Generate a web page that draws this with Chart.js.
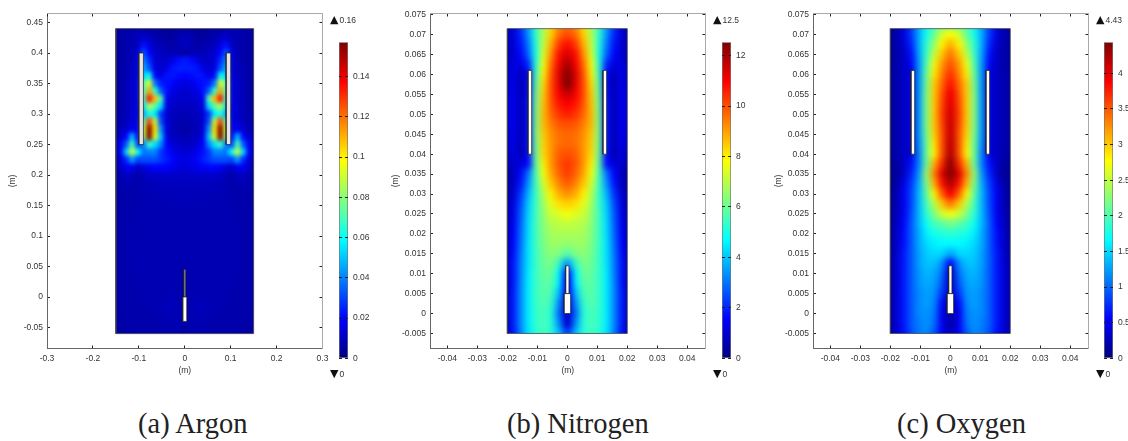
<!DOCTYPE html>
<html><head><meta charset="utf-8">
<script src="https://cdn.jsdelivr.net/npm/chart.js@4"></script>
<style>
html,body{margin:0;padding:0;background:#fff;overflow:hidden}
body{width:1128px;height:441px;position:relative}
canvas{position:absolute;top:0}
.mm{position:absolute;font:8.5px "Liberation Sans",sans-serif;color:#333;white-space:pre;line-height:10px}
.mm b{font:11px "DejaVu Sans",sans-serif;color:#111;margin-right:1px}
.cap{position:absolute;top:410px;font:28.5px "Liberation Serif",serif;color:#222;white-space:pre;line-height:28px}
</style></head><body>
<canvas id="pa" width="330" height="385" style="left:0"></canvas>
<canvas id="pb" width="330" height="385" style="left:383px"></canvas>
<canvas id="pc" width="330" height="385" style="left:766px"></canvas>
<canvas id="ca" width="38" height="385" style="left:338.5px"></canvas>
<canvas id="cb" width="38" height="385" style="left:721.5px"></canvas>
<canvas id="cc" width="24" height="385" style="left:1104px"></canvas>
<div class="mm" style="left:330px;top:13px"><b>▲</b>0.16</div>
<div class="mm" style="left:330px;top:367px"><b>▼</b>0</div>
<div class="mm" style="left:713px;top:13px"><b>▲</b>12.5</div>
<div class="mm" style="left:713px;top:367px"><b>▼</b>0</div>
<div class="mm" style="left:1096px;top:13px"><b>▲</b>4.43</div>
<div class="mm" style="left:1096px;top:367px"><b>▼</b>0</div>
<div class="cap" style="left:138px">(a) Argon</div>
<div class="cap" style="left:507px">(b) Nitrogen</div>
<div class="cap" style="left:897px">(c) Oxygen</div>
<script>
// ---- tick lists ----
const argonXTicks=[-0.3,-0.2,-0.1,0,0.1,0.2,0.3];
const argonYTicks=[-0.05,0,0.05,0.1,0.15,0.2,0.25,0.3,0.35,0.4,0.45];
const gasXTicks=[-0.04,-0.03,-0.02,-0.01,0,0.01,0.02,0.03,0.04];
const gasYTicks=[-0.005,0,0.005,0.01,0.015,0.02,0.025,0.03,0.035,0.04,0.045,0.05,0.055,0.06,0.065,0.07,0.075];
const argonBarTicks=[0,0.02,0.04,0.06,0.08,0.1,0.12,0.14];
const nitrogenBarTicks=[0,2,4,6,8,10,12];
const oxygenBarTicks=[0,0.5,1,1.5,2,2.5,3,3.5,4];
// ---- colour ranges ----
const argonMax=0.157, nitrogenMax=12.53, oxygenMax=4.435;
// ---- sample positions (half domain; mirrored about x=0) ----
const argonXs=[0,0.0125,0.025,0.0375,0.05,0.0625,0.075,0.0875,0.1,0.1125,0.125,0.1375,0.15];
const argonYs=[0.45,0.4375,0.425,0.4125,0.4,0.3875,0.375,0.3625,0.35,0.3375,0.325,0.3125,0.3,0.2875,0.275,0.2625,0.25,0.2375,0.225,0.2125,0.2,0.1875,0.175,0.1625,0.15,0.1375,0.125,0.1125,0.1,0.0875,0.075,0.0625,0.05,0.0375,0.025,0.0125,0,-0.0125,-0.025,-0.0375,-0.05,-0.0625];
const gasXs=[0,0.0025,0.005,0.0075,0.01,0.0125,0.015,0.0175,0.02];
const gasYs=[0.0725,0.07,0.0675,0.065,0.0625,0.06,0.0575,0.055,0.0525,0.05,0.0475,0.045,0.0425,0.04,0.0375,0.035,0.0325,0.03,0.0275,0.025,0.0225,0.02,0.0175,0.015,0.0125,0.01,0.0075,0.005,0.0025,0,-0.0025,-0.005];
// ---- field values: argon in units of 0.001 ----
const argonMilli=[
[6,6,5,5,6,6,6,7,7,7,6,6,5],
[6,5,4,4,5,6,6,7,7,7,6,6,5],
[9,8,5,5,6,7,10,12,9,8,7,6,5],
[10,8,6,7,8,10,15,22,10,8,7,6,5],
[6,8,8,9,10,12,20,32,14,8,7,6,5],
[23,21,16,11,11,13,26,40,13,9,7,6,5],
[24,24,22,15,12,15,32,46,13,10,8,6,5],
[20,21,23,22,15,20,60,52,13,11,8,6,5],
[15,16,19,22,24,38,92,72,14,11,9,6,5],
[12,14,16,22,34,66,112,70,15,11,9,6,5],
[11,12,13,18,70,108,135,72,15,11,9,6,5],
[10,10,11,15,54,72,86,54,15,11,9,6,5],
[9,9,10,13,28,56,64,46,15,12,9,7,5],
[7,8,9,13,32,88,128,72,15,13,10,7,5],
[6,8,9,14,42,102,157,92,16,18,12,9,6],
[8,9,10,16,50,92,156,82,20,48,20,12,7],
[10,11,13,20,40,54,68,38,30,70,34,18,8],
[13,14,17,22,28,40,40,38,60,90,52,18,8],
[15,17,20,24,28,32,32,32,30,44,26,14,7],
[14,15,17,19,20,20,18,14,11,18,18,11,6],
[11,12,12,12,12,12,11,9,7,10,11,8,6],
[10,10,10,10,10,9,9,8,7,8,8,7,6],
[9,9,9,9,9,9,9,8,7,7,7,7,6],
[9,9,9,9,8,8,8,8,7,7,7,6,6],
[8,8,8,8,8,8,8,8,7,7,7,7,6],
[8,8,8,8,8,8,8,8,8,7,7,7,7],
[8,8,8,8,8,8,8,8,8,7,7,7,7],
[8,8,8,8,8,8,8,8,8,8,7,7,7],
[8,8,8,8,8,8,8,8,8,8,7,7,7],
[8,8,8,8,8,8,8,8,8,8,7,7,7],
[8,8,8,8,8,8,8,8,8,8,7,7,7],
[8,8,8,8,8,8,8,8,8,8,7,7,7],
[7,8,8,8,8,8,8,8,8,8,7,7,7],
[6,8,8,8,8,8,8,8,8,7,7,7,7],
[6,8,8,8,8,8,8,8,8,7,7,7,7],
[6,8,8,8,8,8,8,8,7,7,7,7,7],
[6,8,9,8,8,8,8,8,7,7,7,7,7],
[6,8,9,9,8,8,8,7,7,7,7,7,6],
[6,8,9,9,8,8,7,7,7,7,7,7,6],
[6,8,8,8,8,7,7,7,7,7,7,6,6],
[6,8,8,8,7,7,7,7,7,7,6,6,6],
[6,7,7,7,7,7,7,7,7,6,6,6,6]];
const nitrogenField=[
[9.6,9.2,8.2,6.8,5.4,3.6,2.2,1.2,0.6],
[10,9.6,8.4,6.9,5.3,3.4,2,1.1,0.6],
[10.8,10.2,8.8,7.1,5.1,3.1,1.8,1,0.6],
[11.4,10.8,9.2,7.4,5,2.8,1.6,1,0.6],
[12,11,9.6,7.7,5.2,2,1.2,1.2,0.7],
[12.4,11.3,9.9,8,5.5,1.5,0.7,1.3,0.8],
[12.5,11.2,10,8.3,5.8,1.5,0.6,1.3,0.9],
[11.6,11,10,8.5,6,1.6,0.6,1.4,1],
[11,10.7,9.9,8.6,6.1,1.7,0.6,1.4,1],
[10.6,10.3,9.7,8.7,6.2,1.7,0.6,1.4,1],
[10,9.9,9.4,8.7,6.2,1.7,0.6,1.4,1],
[9.7,9.6,9.2,8.5,6.2,1.7,0.6,1.4,0.9],
[9.7,9.6,9.1,8.4,6.1,1.7,0.6,1.3,0.8],
[10,9.8,9.1,8.3,6,1.6,0.6,1.2,0.7],
[10.3,9.9,9.1,8,5.8,1.6,1.1,1,0.5],
[10.2,9.7,8.9,7.7,5.6,3,1.6,0.8,0.3],
[9.8,9.3,8.5,7.3,5.5,3.4,1.8,0.8,0.4],
[9.2,8.8,8,6.9,5.4,3.8,2.2,1,0.5],
[8.4,8.2,7.5,6.7,5.4,4.1,2.5,1.2,0.5],
[7.7,7.4,7.2,6.5,5.5,4.2,2.7,1.3,0.6],
[7.1,7,6.9,6.4,5.5,4.3,2.8,1.4,0.6],
[6.8,6.8,6.7,6.3,5.5,4.3,2.9,1.5,0.6],
[6.5,6.6,6.6,6.2,5.5,4.4,3,1.6,0.7],
[5.8,6.3,6.4,6.1,5.4,4.4,3.1,1.7,0.7],
[3.5,5.4,6.2,6,5.4,4.4,3.2,1.8,0.7],
[1.8,4.8,6,5.9,5.4,4.5,3.2,1.8,0.7],
[1.5,4.6,5.8,5.8,5.4,4.5,3.3,1.8,0.7],
[1.5,4,5.6,5.8,5.4,4.5,3.3,1.9,0.7],
[1.2,3.4,5.4,5.7,5.4,4.5,3.3,1.9,0.7],
[1,3,5.2,5.6,5.3,4.5,3.3,1.9,0.7],
[1,3.4,5.2,5.6,5.3,4.5,3.3,1.9,0.7],
[2.4,4,5.2,5.5,5.2,4.4,3.2,1.8,0.7]];
const oxygenField=[
[2.2,2.15,1.95,1.7,1.3,0.8,0.4,0.2,0.1],
[2.75,2.55,2.1,1.75,1.3,0.8,0.4,0.2,0.1],
[3.1,2.8,2.3,1.85,1.3,0.7,0.35,0.2,0.1],
[3.35,3,2.5,1.9,1.25,0.6,0.3,0.2,0.1],
[3.5,3.2,2.7,2,1.2,0.5,0.3,0.2,0.1],
[3.65,3.3,2.85,2.1,1.2,0.4,0.3,0.2,0.15],
[3.8,3.4,3,2.15,1.2,0.4,0.3,0.2,0.15],
[3.95,3.5,3,2.2,1.2,0.4,0.3,0.2,0.15],
[4,3.55,3,2.2,1.2,0.4,0.3,0.2,0.15],
[4.05,3.6,3,2.2,1.2,0.4,0.3,0.2,0.15],
[4.1,3.55,3,2.2,1.2,0.4,0.3,0.2,0.15],
[4.1,3.5,2.95,2.15,1.2,0.4,0.3,0.2,0.15],
[4.15,3.5,2.85,2.1,1.15,0.4,0.3,0.2,0.15],
[4.2,3.5,2.8,2.1,1.1,0.4,0.3,0.2,0.1],
[4.35,3.7,3.1,2.1,1.1,0.6,0.3,0.15,0.1],
[4.4,4,3.3,2.3,1.2,0.7,0.3,0.1,0.1],
[4.2,3.8,3.1,2.2,1.3,0.8,0.45,0.15,0.1],
[3.9,3.45,2.8,2.05,1.35,0.85,0.5,0.2,0.1],
[3.35,3,2.45,1.95,1.35,0.85,0.5,0.2,0.1],
[2.7,2.55,2.2,1.85,1.35,0.9,0.5,0.25,0.1],
[2.15,2.05,1.95,1.7,1.35,0.95,0.55,0.25,0.1],
[1.85,1.8,1.75,1.6,1.3,0.95,0.6,0.3,0.1],
[1.65,1.65,1.6,1.5,1.3,0.95,0.6,0.3,0.15],
[1.3,1.5,1.5,1.45,1.25,0.95,0.65,0.3,0.15],
[0.6,1.2,1.4,1.4,1.25,0.95,0.65,0.35,0.15],
[0.3,1.05,1.3,1.35,1.2,0.95,0.65,0.35,0.15],
[0.3,0.95,1.25,1.3,1.2,0.95,0.65,0.35,0.15],
[0.3,0.8,1.2,1.25,1.15,0.95,0.65,0.35,0.15],
[0.2,0.6,1.15,1.25,1.15,0.95,0.65,0.35,0.15],
[0.2,0.5,1.1,1.2,1.15,0.95,0.65,0.35,0.15],
[0.2,0.5,1.05,1.2,1.1,0.95,0.65,0.35,0.15],
[0.25,0.55,0.95,1.15,1.1,0.9,0.6,0.35,0.15]];
// ---- geometry in metres: [x0,x1,y0,y1] ----
const argonDomain=[-0.15,0.15,-0.06,0.44];
const gasDomain=[-0.02,0.02,-0.005,0.0715];
const argonHoles=[[-0.1,-0.09,0.25,0.4],[0.09,0.1,0.25,0.4],[-0.0044,0.0044,-0.04,0],[-0.0018,0.0018,0,0.045]];
const argonHoleFills=['#e4e4e4','#e4e4e4','#fff','#fff'];
const gasHoles=[[-0.0131,-0.0119,0.04,0.061],[0.0119,0.0131,0.04,0.061],[-0.0011,0.0011,0,0.005],[-0.00055,0.00055,0.005,0.012]];
const gasHoleFills=['#fff','#fff','#fff','#fff'];

const clamp=v=>Math.max(0,Math.min(1,v));
function jet(t){
  const r=clamp(1.5-Math.abs(4*t-3)),g=clamp(1.5-Math.abs(4*t-2)),b=clamp(1.5-Math.abs(4*t-1));
  return `rgb(${Math.round(r*255)},${Math.round(g*255)},${Math.round(b*255)})`;
}
const FONT={family:'"Liberation Sans",sans-serif',size:8.5};
const TXT='#333';

function cells(xs,ys,rows,factor){
  const out=[];
  rows.forEach((row,j)=>{
    for(let i=xs.length-1;i>=0;i--){
      out.push({x:xs[i],y:ys[j],v:row[i]*factor});
      if(xs[i]!==0) out.push({x:-xs[i],y:ys[j],v:row[i]*factor});
    }
  });
  return out;
}
function outline(r){return [{x:r[0],y:r[2]},{x:r[1],y:r[2]},{x:r[1],y:r[3]},{x:r[0],y:r[3]},{x:r[0],y:r[2]}];}

function fieldBlur(domain,sigma){
  return {id:'fieldBlur',afterDatasetDraw(chart,args){
    if(args.index!==0) return;
    const c=chart.ctx,a=chart.chartArea,sx=chart.scales.x,sy=chart.scales.y;
    const L=sx.getPixelForValue(domain[0]),R=sx.getPixelForValue(domain[1]);
    const B=sy.getPixelForValue(domain[2]),T=sy.getPixelForValue(domain[3]);
    c.save();
    c.beginPath();c.rect(L,T,R-L,B-T);c.clip();
    c.filter=`blur(${sigma}px)`;
    const x0=Math.floor(L-12),y0=Math.floor(T-12),w=Math.ceil(R-L+24),h=Math.ceil(B-T+24);
    c.drawImage(chart.canvas,x0,y0,w,h,x0,y0,w,h);
    c.restore();
    c.save();
    c.fillStyle='#fff';
    c.fillRect(a.left-1,a.top-1,L-a.left+1,a.bottom-a.top+2);
    c.fillRect(R,a.top-1,a.right-R+1,a.bottom-a.top+2);
    c.fillRect(L-1,a.top-1,R-L+2,T-a.top+1);
    c.fillRect(L-1,B,R-L+2,a.bottom-B+1);
    c.restore();
  }};
}

function axisCommon(list){
  return {
    afterBuildTicks(s){s.ticks=list.map(v=>({value:v}));},
    border:{color:'#666',width:1,z:1},
    grid:{drawOnChartArea:false,drawTicks:true,tickLength:-3,color:'#222',lineWidth:1,z:1}
  };
}
function noOverflow(s){s.paddingLeft=0;s.paddingRight=0;s.paddingTop=0;s.paddingBottom=0;}
function fieldChart(id,opts){
  const xr=opts.xRange,yr=opts.yRange;
  const data=cells(opts.xs,opts.ys,opts.rows,opts.factor);
  const holes=opts.holes.map((r,i)=>({data:outline(r),showLine:true,fill:'shape',backgroundColor:opts.fills[i],borderColor:'#222',borderWidth:0.7,pointRadius:0,tension:0,order:1}));
  const frame={data:outline(opts.domain),showLine:true,fill:false,borderColor:'#444',borderWidth:0.8,pointRadius:0,tension:0,order:2};
  new Chart(document.getElementById(id),{
    type:'scatter',
    data:{datasets:[{data,order:5,pointStyle:'rect',pointRadius:opts.r,pointBorderWidth:0,
      pointBackgroundColor:c=>jet(c.raw.v/opts.max)},frame,...holes]},
    options:{responsive:false,animation:false,devicePixelRatio:1,events:[],
      layout:{padding:{left:0,top:13.5,right:7.5,bottom:0}},
      plugins:{legend:{display:false},tooltip:{enabled:false}},
      scales:{
        x:{type:'linear',position:'bottom',min:xr[0],max:xr[1],...axisCommon(opts.xTicks),
          afterFit(s){s.height=36.5;noOverflow(s);},
          ticks:{autoSkip:false,maxRotation:0,font:FONT,color:TXT,padding:8,z:1,callback:v=>String(v)},
          title:{display:true,text:'(m)',font:FONT,color:TXT,padding:{top:0,bottom:9}}},
        y:{type:'linear',position:'left',min:yr[0],max:yr[1],...axisCommon(opts.yTicks),
          afterFit(s){s.width=47;noOverflow(s);},
          ticks:{autoSkip:false,font:FONT,color:TXT,padding:7,z:1,callback:v=>String(v)},
          title:{display:true,text:'(m)',font:FONT,color:TXT,padding:{top:8,bottom:0}}},
        x2:{type:'linear',position:'top',min:xr[0],max:xr[1],...axisCommon(opts.xTicks),
          afterFit(s){s.height=0;noOverflow(s);},ticks:{display:false},border:{color:'#aaa',width:1,z:1}},
        y2:{type:'linear',position:'right',min:yr[0],max:yr[1],...axisCommon(opts.yTicks),
          afterFit(s){s.width=0;noOverflow(s);},ticks:{display:false},border:{color:'#aaa',width:1,z:1}}
      }
    },
    plugins:[fieldBlur(opts.domain,opts.sigma)]
  });
}
function barChart(id,max,tickList){
  const canvas=document.getElementById(id);
  new Chart(canvas,{
    type:'bar',
    data:{labels:['c'],datasets:[{data:[[0,max]],barPercentage:1,categoryPercentage:1,borderWidth:1,borderColor:'#777',borderSkipped:false,
      backgroundColor(c){
        const a=c.chart.chartArea; if(!a) return '#00f';
        const g=c.chart.ctx.createLinearGradient(0,a.bottom,0,a.top);
        [0,0.125,0.375,0.625,0.875,1].forEach(t=>g.addColorStop(t,jet(t)));
        return g;
      }}]},
    options:{responsive:false,animation:false,devicePixelRatio:1,events:[],
      layout:{padding:{left:0,top:42.3,right:0,bottom:26.7}},
      plugins:{legend:{display:false},tooltip:{enabled:false}},
      scales:{
        x:{display:false},
        y:{position:'right',min:0,max,...axisCommon(tickList),
          afterFit(s){s.width=canvas.width-9;noOverflow(s);},
          border:{display:false,z:1},
          ticks:{autoSkip:false,font:FONT,color:TXT,padding:8,z:1,callback:v=>String(v)}},
        y3:{position:'left',min:0,max,...axisCommon(tickList),
          afterFit(s){s.width=0;noOverflow(s);},
          border:{display:false,z:1},ticks:{display:false}}
      }
    }
  });
}
fieldChart('pa',{xs:argonXs,ys:argonYs,rows:argonMilli,factor:0.001,max:argonMax,domain:argonDomain,holes:argonHoles,fills:argonHoleFills,xRange:[-0.3,0.3],yRange:[-0.0844,0.4648],xTicks:argonXTicks,yTicks:argonYTicks,r:5.6,sigma:2});
fieldChart('pb',{xs:gasXs,ys:gasYs,rows:nitrogenField,factor:1,max:nitrogenMax,domain:gasDomain,holes:gasHoles,fills:gasHoleFills,xRange:[-0.0458,0.0461],yRange:[-0.00877,0.0753],xTicks:gasXTicks,yTicks:gasYTicks,r:7.4,sigma:3.2});
fieldChart('pc',{xs:gasXs,ys:gasYs,rows:oxygenField,factor:1,max:oxygenMax,domain:gasDomain,holes:gasHoles,fills:gasHoleFills,xRange:[-0.0458,0.0461],yRange:[-0.00877,0.0753],xTicks:gasXTicks,yTicks:gasYTicks,r:7.4,sigma:3.2});
barChart('ca',argonMax,argonBarTicks);
barChart('cb',nitrogenMax,nitrogenBarTicks);
barChart('cc',oxygenMax,oxygenBarTicks);
</script>
</body></html>
